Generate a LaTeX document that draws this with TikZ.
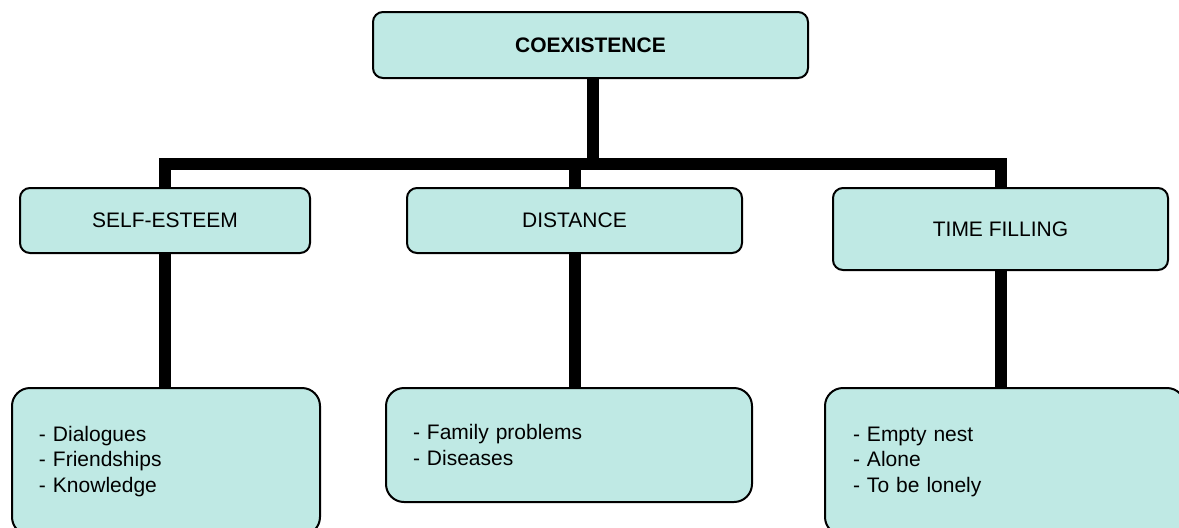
\documentclass[tikz,border=0pt]{standalone}
\usepackage{fontspec}
\setmainfont{Liberation Sans}
\usepackage{tikz}
\usetikzlibrary{positioning}

\definecolor{boxfill}{RGB}{191,233,228}

\tikzset{
    box/.style={draw, line width=1pt, fill=boxfill, rounded corners=5pt,
        inner sep=0pt, font=\fontsize{10.5}{12.75}\selectfont},
    listbox/.style={box, rounded corners=9pt, align=left, inner xsep=13.5pt},
    bar/.style={line width=6pt}
}

\begin{document}
\begin{tikzpicture}[x=0.5pt, y=-0.5pt]
        \useasboundingbox (0,0) rectangle (1179,527);

        % root
        \node[box, minimum width=217.5pt, minimum height=33pt,
              font=\fontsize{10.5}{12.75}\selectfont\bfseries] at (590.5,45) (coex) {COEXISTENCE};

        % second level
        \node[box, minimum width=145pt, minimum height=32.5pt] at (165,220.5) (self) {SELF-ESTEEM};
        \node[box, minimum width=167.5pt, minimum height=32.5pt] at (574.5,220.5) (dist) {DISTANCE};
        \node[box, minimum width=167.5pt, minimum height=41pt] at (1000.5,229) (time) {TIME FILLING};

        % third level
        \node[listbox, text width=127pt, minimum height=73.5pt] at (166,461.5) (dlg)
            {- Dialogues\\- Friendships\\- Knowledge};
        \node[listbox, text width=156pt, minimum height=57pt] at (569,445) (fam)
            {- Family problems\\- Diseases};
        \node[listbox, text width=152pt, minimum height=73.5pt, inner xsep=14pt] at (1005,461.5) (nest)
            {- Empty nest\\- Alone\\- To be lonely};

        % connectors
        \coordinate (hub) at (593,164);
        \draw[bar] (coex.south -| hub) -- (hub);
        \draw[bar] (self.north) |- (hub) -| (time.north);
        \draw[bar] (dist.north) -- (dist.north |- hub);
        \draw[bar] (self.south) -- (self.south |- dlg.north);
        \draw[bar] (dist.south) -- (dist.south |- fam.north);
        \draw[bar] (time.south) -- (time.south |- nest.north);
    \end{tikzpicture}
\end{document}
